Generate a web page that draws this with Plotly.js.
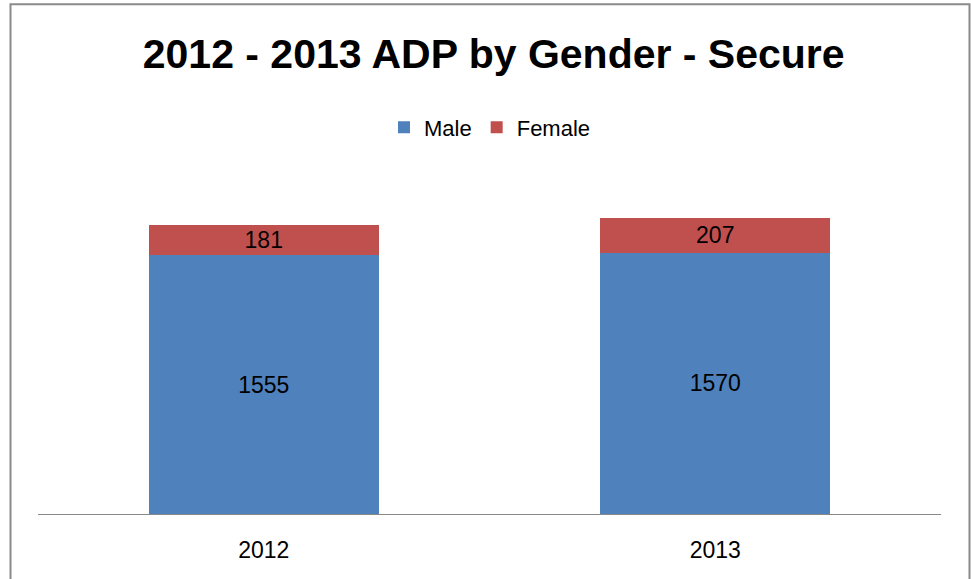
<!DOCTYPE html>
<html>
<head>
<meta charset="utf-8">
<script src="https://cdn.plot.ly/plotly-3.0.1.min.js"></script>
<style>
  html, body { margin: 0; padding: 0; background: #ffffff; }
  #chart { width: 971px; height: 579px; }
</style>
</head>
<body>
<div id="chart"></div>
<script>
const years = ['2012', '2013'];
const male = [1555, 1570];
const female = [181, 207];
const seriesNames = ['Male', 'Female'];
const chartTitle = '2012 - 2013 ADP by Gender - Secure';

const FONT = 'Liberation Sans, Arial, sans-serif';
const W = 971, H = 579;
const mL = 38, mR = 30, mT = 181, mB = 65;
const pw = W - mL - mR, ph = H - mT - mB;

const labelFont = { family: FONT, size: 23, color: '#000000' };

const traces = [
  {
    type: 'bar', name: seriesNames[0], x: years, y: male,
    marker: { color: '#4F81BD', line: { width: 0 } },
    texttemplate: '%{y}', textposition: 'inside', insidetextanchor: 'middle',
    constraintext: 'none', textfont: labelFont, hoverinfo: 'none'
  },
  {
    type: 'bar', name: seriesNames[1], x: years, y: female,
    marker: { color: '#C0504D', line: { width: 0 } },
    texttemplate: '%{y}', textposition: 'inside', insidetextanchor: 'middle',
    constraintext: 'none', textfont: labelFont, hoverinfo: 'none'
  }
];

const layout = {
  width: W, height: H,
  margin: { l: mL, r: mR, t: mT, b: mB, pad: 0 },
  paper_bgcolor: '#ffffff', plot_bgcolor: '#ffffff',
  barmode: 'stack', bargap: 0.49,
  showlegend: true,
  title: {
    text: chartTitle,
    font: { family: FONT, size: 41, color: '#000000', weight: 'bold' },
    x: 490 / W, xanchor: 'center', xref: 'paper',
    y: 1 - 54 / H, yanchor: 'middle', yref: 'container'
  },
  legend: {
    orientation: 'h',
    x: (490 - mL) / pw, xanchor: 'center',
    y: (H - mB - 127.5) / ph, yanchor: 'middle',
    font: { family: FONT, size: 22, color: '#000000' },
    traceorder: 'normal', bgcolor: 'rgba(0,0,0,0)'
  },
  xaxis: {
    type: 'category',
    showline: true, linecolor: '#888888', linewidth: 1,
    showgrid: false, zeroline: false,
    ticks: 'outside', ticklen: 15, tickcolor: 'rgba(0,0,0,0)',
    tickfont: { family: FONT, size: 23, color: '#000000' },
    fixedrange: true
  },
  yaxis: {
    range: [0, 2000], visible: false, showgrid: false, zeroline: false, fixedrange: true
  },
  shapes: [
    {
      type: 'rect', xref: 'paper', yref: 'paper',
      x0: (10.5 - mL) / pw, x1: (969.5 - mL) / pw,
      y0: (H - mB - 600) / ph, y1: (H - mB - 4.3) / ph,
      line: { color: '#8a8a8a', width: 2 }, fillcolor: 'rgba(0,0,0,0)', layer: 'above'
    }
  ]
};

Plotly.newPlot('chart', traces, layout, { staticPlot: true, displayModeBar: false });
</script>
</body>
</html>
